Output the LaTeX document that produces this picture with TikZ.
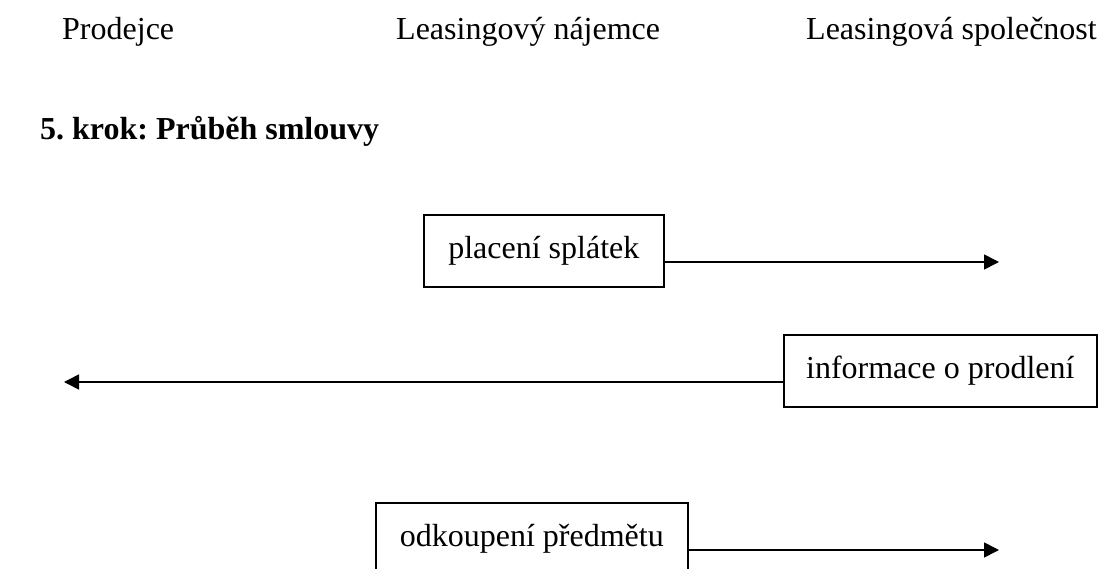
\documentclass[tikz,border=0pt]{standalone}
\usepackage{fontspec}
\setmainfont{Liberation Serif}
\usetikzlibrary{arrows.meta}
\frenchspacing
\tikzset{
  lbl/.style={anchor=base west, inner sep=0pt, font=\fontsize{32}{38}\selectfont},
  stepbox/.style={draw, line width=1.6pt, anchor=north west, inner xsep=22pt, inner ysep=0pt, align=left, minimum height=72pt, font=\fontsize{32}{38}\selectfont},
  arr/.style={line width=1.6pt, -{Triangle[length=15pt,width=15pt]}}
}
\begin{document}
\begin{tikzpicture}[x=1pt,y=-1pt]
\clip (0,0) rectangle (1103,569);
\node[lbl] (prod) at (62,40) {Prodejce};
\node[lbl] (naj) at (396,40) {Leasingový nájemce};
\node[lbl] (spol) at (806,40) {Leasingová společnost};
\node[lbl, font=\fontsize{32}{38}\selectfont\bfseries] (krok) at (40,140) {5. krok: Průběh smlouvy};
\node[stepbox, minimum width=240pt] (b1) at (423,214) {placení splátek};
\node[stepbox, minimum width=313pt] (b2) at (783,334) {informace o prodlení};
\node[stepbox, minimum width=312pt] (b3) at (375,502) {odkoupení předmětu};
\coordinate (e1) at (999,262);
\coordinate (e2) at (64,382);
\coordinate (e3) at (999,550);
\draw[arr] (b1.east |- e1) -- (e1);
\draw[arr] (b2.west |- e2) -- (e2);
\draw[arr] (b3.east |- e3) -- (e3);
\end{tikzpicture}
\end{document}
